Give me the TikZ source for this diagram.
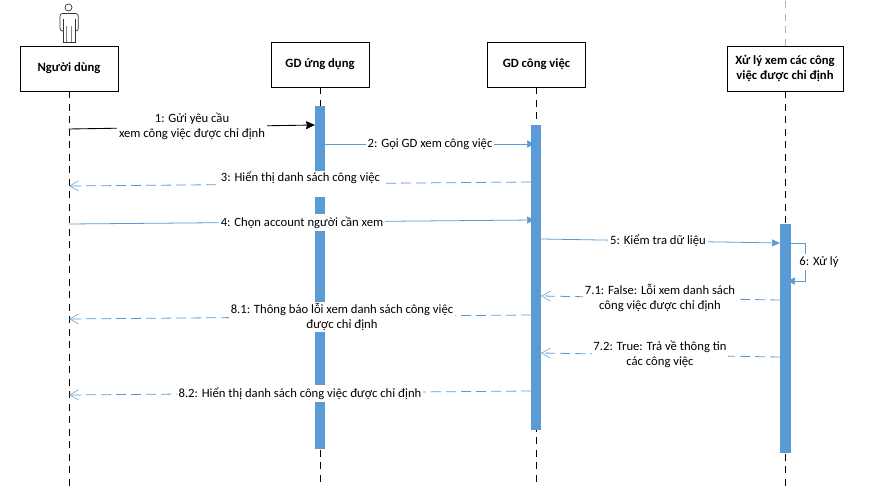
\documentclass[tikz,border=0pt]{standalone}
\usepackage{fontspec}
\setmainfont{Carlito}
\usetikzlibrary{arrows.meta}
\definecolor{barblue}{HTML}{5B9BD5}
\tikzstyle{objbox} = [rectangle, minimum width=1.96cm, minimum height=0.9cm, text centered, align=center, draw=black, line width=0.5pt, fill=white, font=\fontsize{7.2pt}{8.5pt}\selectfont\bfseries]
\tikzstyle{lifeline} = [draw=black, line width=0.45pt, dash pattern=on 0.14cm off 0.11cm]
\tikzstyle{bar} = [rectangle, minimum width=0.2cm, inner sep=0pt, fill=barblue]
\tikzstyle{msglabel} = [align=center, fill=white, inner xsep=1pt, inner ysep=0.6pt, minimum height=0.34cm, font=\fontsize{7.2pt}{8.5pt}\selectfont]
\tikzstyle{callblack} = [draw=black, line width=0.5pt, -{Stealth[length=0.18cm, width=0.16cm, inset=0.02cm]}]
\tikzstyle{callblue} = [draw=barblue, line width=0.45pt, -{Stealth[length=0.16cm, width=0.14cm, inset=0.01cm]}]
\tikzstyle{returnblue} = [draw=barblue, line width=0.45pt, dash pattern=on 0.2cm off 0.1cm, -{Straight Barb[length=0.18cm, width=0.2cm, line width=0.3pt]}]

\begin{document}
\begin{tikzpicture}[x=0.02cm, y=-0.02cm]
\useasboundingbox (0,0) rectangle (882,496);

% actor
\node (head) [circle, draw=black!80, line width=0.4pt, minimum size=0.14cm, inner sep=0pt] at (68.5,7.5) {};
\draw [black!80, line width=0.4pt, rounded corners=1.5pt] (63.3,31) -- (60,31) -- (60,13.5) -- (78.3,13.5) -- (78.3,31) -- (75,31);
\draw [black!80, line width=0.4pt] (63.3,19) -- (63.3,42) -- (75,42) -- (75,19);
\draw [black!50, line width=0.6pt] (66.7,26) -- (66.7,42) (71.7,26) -- (71.7,42);

% objects
\node (user) [objbox] at (69,68.5) {Người dùng};
\node (app) [objbox] at (320,64.5) {GD ứng dụng};
\node (work) [objbox] at (536.5,64.5) {GD công việc};
\node (proc) [objbox, minimum width=2.32cm] at (785,68.5) {Xử lý xem các công\\việc được chỉ định};

\coordinate (userEnd) at (69,491);
\coordinate (appEnd) at (320,486);
\coordinate (workEnd) at (536.5,487);
\coordinate (procEnd) at (785,490);
\coordinate (procTop) at (785,0);

\draw [lifeline] (user) -- (userEnd);
\draw [lifeline] (app) -- (appEnd);
\draw [lifeline] (work) -- (workEnd);
\draw [lifeline] (proc) -- (procEnd);
\draw [lifeline, draw=black!30] (proc) -- (procTop);

% activation bars
\node (barApp) [bar, minimum height=6.86cm] at (320,277.5) {};
\node (barWork) [bar, minimum height=6.1cm] at (536,277.5) {};
\node (barProc) [bar, minimum width=0.22cm, minimum height=4.58cm] at (785.5,338.5) {};

% message ends
\coordinate (m1a) at (69,129);
\coordinate (m1b) at (315,125);
\coordinate (m2a) at (325,144);
\coordinate (m2b) at (535,144);
\coordinate (m3a) at (531,182);
\coordinate (m3b) at (69,186);
\coordinate (m4a) at (69,224);
\coordinate (m4b) at (535,220);
\coordinate (m5a) at (541,239);
\coordinate (m5b) at (780,243);
\coordinate (m6a) at (791,243);
\coordinate (m6b) at (805,243);
\coordinate (m6c) at (805,281);
\coordinate (m6d) at (787,281);
\coordinate (m71a) at (780,300);
\coordinate (m71b) at (541,296);
\coordinate (m72a) at (780,357);
\coordinate (m72b) at (541,353);
\coordinate (m81a) at (531,315);
\coordinate (m81b) at (69,319);
\coordinate (m82a) at (531,391);
\coordinate (m82b) at (69,395);

\draw [callblack] (m1a) -- (m1b);
\draw [callblue] (m2a) -- (m2b);
\draw [returnblue] (m3a) -- (m3b);
\draw [callblue] (m4a) -- (m4b);
\draw [callblue] (m5a) -- (m5b);
\draw [callblue] (m6a) -- (m6b) -- (m6c) -- (m6d);
\draw [returnblue] (m71a) -- (m71b);
\draw [returnblue] (m72a) -- (m72b);
\draw [returnblue] (m81a) -- (m81b);
\draw [returnblue] (m82a) -- (m82b);

% message labels
\node (l1) [msglabel] at (192,126.5) {1: Gửi yêu cầu\\xem công việc được chỉ định};
\node (l2) [msglabel] at (430,144) {2: Gọi GD xem công việc};
\node (l3) [msglabel] at (300.5,184) {3: Hiển thị danh sách công việc\\\mbox{}};
\node (l4) [msglabel] at (302,222.5) {4: Chọn account người cần xem};
\node (l5) [msglabel] at (658,241) {5: Kiểm tra dữ liệu};
\node (l6) [msglabel] at (819,262) {6: Xử lý};
\node (l71) [msglabel] at (660,297.5) {7.1: False: Lỗi xem danh sách\\công việc được chỉ định};
\node (l72) [msglabel] at (660,354.5) {7.2: True: Trả về thông tin\\các công việc};
\node (l81) [msglabel] at (342,317) {8.1: Thông báo lỗi xem danh sách công việc\\được chỉ định};
\node (l82) [msglabel] at (300,393.5) {8.2: Hiển thị danh sách công việc được chỉ định};

\end{tikzpicture}
\end{document}
